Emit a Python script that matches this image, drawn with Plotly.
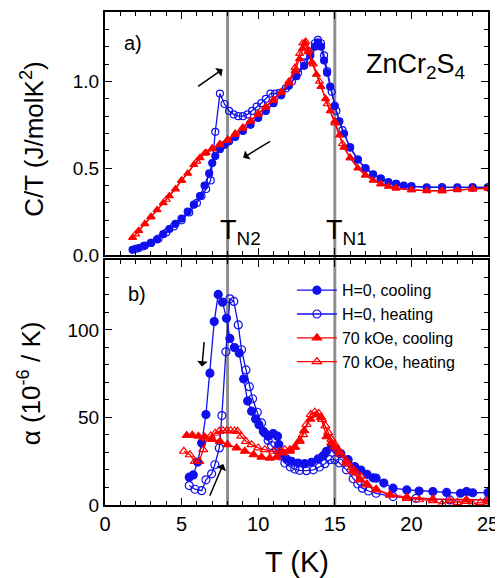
import plotly.graph_objects as go

# ---------------- data: panel a) C/T (J/molK^2) ----------------
a_T_h0_cool = [1.8, 2.2, 2.6, 3.0, 3.4, 3.8, 4.2, 4.6, 5.0, 5.4, 5.8, 6.2, 6.5, 6.8, 7.0, 7.2, 7.5, 7.8,
               8.1, 8.5, 9.0, 9.5, 10.0, 10.5, 11.0, 11.5, 12.0, 12.5, 13.0, 13.4, 13.7, 13.9, 14.1, 14.3,
               14.5, 14.7, 15.0, 15.3, 15.6, 16.0, 16.5, 17.0, 17.5, 18.0, 18.5, 19.0, 19.5, 20.0, 21.0,
               22.0, 23.0, 24.0, 25.0]
a_C_h0_cool = [0.03, 0.04, 0.055, 0.07, 0.09, 0.12, 0.15, 0.18, 0.21, 0.25, 0.29, 0.34, 0.40, 0.47, 0.53,
               0.57, 0.61, 0.635, 0.655, 0.68, 0.715, 0.75, 0.79, 0.83, 0.875, 0.92, 0.975, 1.03, 1.09,
               1.15, 1.20, 1.225, 1.20, 1.12, 1.05, 0.97, 0.86, 0.77, 0.70, 0.62, 0.55, 0.50, 0.465, 0.44,
               0.42, 0.41, 0.40, 0.395, 0.39, 0.39, 0.39, 0.39, 0.39]

a_T_h0_heat = [2.0, 2.5, 3.0, 3.5, 4.0, 4.5, 5.0, 5.5, 6.0, 6.3, 6.6, 6.9, 7.2, 7.5, 7.8, 8.1, 8.4, 8.7,
               9.0, 9.3, 9.6, 9.9, 10.2, 10.5, 10.8, 11.1, 11.4, 11.8, 12.2, 12.6, 13.0, 13.4, 13.7, 13.9,
               14.1, 14.3, 14.5, 14.8, 15.1, 15.5, 16.0, 16.5, 17.0, 18.0, 19.0, 20.0, 22.0, 24.0, 25.0]
a_C_h0_heat = [0.035, 0.05, 0.07, 0.095, 0.13, 0.165, 0.20, 0.245, 0.30, 0.34, 0.38, 0.43, 0.71, 0.93,
               0.87, 0.83, 0.81, 0.80, 0.80, 0.81, 0.83, 0.855, 0.875, 0.90, 0.93, 0.93, 0.935, 0.96,
               1.0, 1.05, 1.11, 1.17, 1.22, 1.24, 1.22, 1.15, 1.06, 0.94, 0.83, 0.72, 0.62, 0.55, 0.50,
               0.44, 0.41, 0.395, 0.39, 0.39, 0.39]

a_T_70_cool = [1.8, 2.2, 2.6, 3.0, 3.4, 3.8, 4.2, 4.6, 5.0, 5.4, 5.8, 6.2, 6.6, 7.0, 7.5, 8.0, 8.5, 9.0,
               9.5, 10.0, 10.5, 11.0, 11.5, 12.0, 12.4, 12.7, 12.9, 13.05, 13.25, 13.5, 13.8, 14.1, 14.4,
               14.7, 15.0, 15.3, 15.6, 16.0, 16.5, 17.0, 17.5, 18.0, 18.5, 19.0, 20.0, 21.0, 22.0, 23.0,
               24.0, 25.0]
a_C_70_cool = [0.10, 0.14, 0.18, 0.22, 0.26, 0.30, 0.34, 0.38, 0.43, 0.47, 0.52, 0.56, 0.59, 0.61, 0.635,
               0.66, 0.695, 0.73, 0.77, 0.81, 0.85, 0.89, 0.935, 0.99, 1.06, 1.13, 1.19, 1.22, 1.17, 1.11,
               1.04, 0.97, 0.90, 0.83, 0.77, 0.69, 0.62, 0.56, 0.50, 0.46, 0.43, 0.41, 0.395, 0.385, 0.375,
               0.37, 0.37, 0.375, 0.38, 0.385]

a_T_70_heat = [2.0, 3.0, 4.0, 5.0, 6.0, 6.5, 7.0, 7.5, 8.0, 8.5, 9.0, 9.5, 10.0, 10.5, 11.0, 11.5, 12.0,
               12.4, 12.7, 12.9, 13.1, 13.3, 13.6, 14.0, 14.5, 15.0, 15.5, 16.0, 17.0, 18.0, 19.0, 20.0,
               22.0, 24.0, 25.0]
a_C_70_heat = [0.12, 0.22, 0.32, 0.43, 0.54, 0.585, 0.615, 0.64, 0.665, 0.70, 0.735, 0.775, 0.815, 0.855,
               0.895, 0.94, 1.0, 1.08, 1.16, 1.22, 1.23, 1.18, 1.10, 1.0, 0.87, 0.76, 0.64, 0.56, 0.46,
               0.41, 0.385, 0.375, 0.37, 0.38, 0.385]

# ---------------- data: panel b) alpha (1e-6 / K) ----------------
b_T_h0_cool = [5.5, 5.76, 6.05, 6.31, 6.59, 6.85, 7.13, 7.39, 7.67, 7.93, 8.15, 8.45, 8.76, 9.05, 9.31,
               9.57, 9.83, 10.05, 10.33, 10.65, 10.98, 11.26, 11.35, 11.52, 11.85, 12.18, 12.61, 13.04,
               13.48, 13.91, 14.24, 14.46, 14.78, 15.1, 15.4, 15.87, 16.3, 16.7, 17.1, 17.5, 17.7, 18.2,
               18.8, 19.7, 20.5, 21.4, 22.3, 23.2, 23.6, 24.0, 25.0]
b_A_h0_cool = [15.9, 17.2, 24.5, 35.4, 51.7, 75.3, 104.8, 120.3, 115.9, 106.7, 95.2, 90.0, 86.8, 72.0,
               59.4, 53.6, 49.2, 45.9, 42.1, 39.3, 40.8, 39.3, 34.5, 29.7, 26.3, 24.9, 24.0, 23.6, 24.4,
               26.3, 28.2, 30.7, 33.2, 31.6, 29.3, 25.9, 22.0, 20.0, 17.5, 15.5, 15.3, 12.5, 9.6, 8.6,
               8.0, 7.7, 7.2, 6.7, 7.7, 7.0, 7.1]

b_T_h0_heat = [5.5, 5.87, 6.31, 6.59, 6.96, 7.17, 7.46, 7.63, 7.89, 8.15, 8.41, 8.7, 8.91, 9.2, 9.42,
               9.63, 9.94, 10.22, 10.43, 10.65, 10.87, 11.2, 11.45, 11.74, 12.1, 12.39, 12.7, 13.15, 13.6,
               14.0, 14.35, 14.67, 15.0, 15.3, 15.76, 16.2, 16.5, 16.8, 17.2, 17.7, 18.8, 20.3, 22.5, 25.0]
b_A_h0_heat = [11.1, 9.0, 8.2, 14.4, 17.8, 23.0, 32.6, 51.1, 87.5, 117.8, 116.3, 102.9, 88.7, 77.2, 67.6,
               60.7, 53.0, 46.9, 41.2, 36.9, 34.0, 31.6, 28.0, 24.0, 21.7, 20.5, 19.8, 19.6, 20.1, 21.7,
               23.6, 25.9, 25.9, 24.0, 20.1, 15.0, 12.0, 9.6, 8.0, 6.7, 4.8, 3.8, 2.9, 2.9]

b_T_70_cool = [5.33, 5.7, 6.1, 6.5, 7.0, 7.5, 8.0, 8.59, 9.13, 9.7, 10.22, 10.76, 11.2, 11.6, 12.07, 12.39,
               12.7, 13.0, 13.4, 13.8, 14.1, 14.46, 14.78, 15.0, 15.3, 15.76, 16.2, 16.6, 17.1, 17.7, 18.6,
               19.7, 21.4, 23.6, 25.0]
b_A_70_cool = [39.7, 39.8, 39.3, 38.8, 37.5, 36.4, 34.5, 32.6, 30.7, 28.7, 27.4, 26.8, 27.4, 29.7, 30.7,
               33.0, 37.0, 42.5, 49.0, 51.5, 50.0, 39.0, 35.5, 33.2, 30.0, 23.9, 19.3, 14.4, 12.0, 9.0,
               6.0, 4.5, 3.5, 2.9, 2.9]

b_T_70_heat = [5.15, 5.54, 5.87, 6.15, 6.41, 6.63, 6.9, 7.2, 7.46, 7.7, 7.95, 8.2, 8.45, 8.65, 8.9, 9.2,
               9.57, 10.0, 10.43, 10.98, 11.4, 11.74, 12.07, 12.39, 12.7, 12.93, 13.15, 13.43, 13.69,
               13.95, 14.17, 14.39, 14.57, 14.78, 15.0, 15.2, 15.4, 15.76, 16.1, 16.4, 16.7, 17.1, 17.7,
               18.6, 19.7, 20.5, 21.4, 22.0, 22.5, 23.0, 23.5, 24.0, 24.5, 25.0]
b_A_70_heat = [30.7, 28.7, 24.9, 24.9, 31.6, 37.7, 39.5, 41.0, 42.1, 42.5, 42.5, 42.5, 42.3, 42.1, 39.3,
               36.4, 34.5, 32.6, 31.6, 30.7, 30.7, 31.6, 31.6, 33.2, 36.4, 40.2, 46.0, 51.7, 53.0, 52.3,
               48.9, 45.2, 41.4, 37.5, 34.7, 31.8, 29.0, 25.2, 21.3, 18.4, 16.5, 11.5, 8.6, 5.7, 3.8, 3.0,
               2.5, 0.5, 2.5, 1.5, 2.0, 0.5, 1.5, 1.0]

legend_names = ["H=0, cooling", "H=0, heating", "70 kOe, cooling", "70 kOe, heating"]
T_N2 = 8
T_N1 = 15

x_ticks = [0, 5, 10, 15, 20, 25]
a_ticks = [0.0, 0.5, 1.0]
a_ticklabels = ["0.0", "0.5", "1.0"]
b_ticks = [0, 50, 100]

BLUE = "#1010ee"
RED = "#ff0000"
FONT = "Liberation Sans, Arial, sans-serif"

fig = go.Figure()

styles = [
    (BLUE, "circle"),
    (BLUE, "circle-open"),
    (RED, "triangle-up"),
    (RED, "triangle-up-open"),
]

a_sets = [(a_T_h0_cool, a_C_h0_cool), (a_T_h0_heat, a_C_h0_heat),
          (a_T_70_cool, a_C_70_cool), (a_T_70_heat, a_C_70_heat)]
b_sets = [(b_T_h0_cool, b_A_h0_cool), (b_T_h0_heat, b_A_h0_heat),
          (b_T_70_cool, b_A_70_cool), (b_T_70_heat, b_A_70_heat)]

for (xs, ys), (col, sym) in zip(a_sets, styles):
    fig.add_trace(go.Scatter(
        x=xs, y=ys, mode="lines+markers", xaxis="x2", yaxis="y2", showlegend=False,
        line=dict(color=col, width=1.3),
        marker=dict(symbol=sym, size=7, color=col, line=dict(color=col, width=1.2)),
    ))

for (xs, ys), (col, sym), name in zip(b_sets, styles, legend_names):
    fig.add_trace(go.Scatter(
        x=xs, y=ys, mode="lines+markers", xaxis="x", yaxis="y", name=name,
        line=dict(color=col, width=1.3),
        marker=dict(symbol=sym, size=8, color=col, line=dict(color=col, width=1.2)),
    ))

axis_common = dict(
    showline=True, linecolor="black", linewidth=2, mirror="allticks",
    ticks="inside", ticklen=7, tickwidth=1.2, tickcolor="black",
    showgrid=False, zeroline=False, automargin=False,
    tickfont=dict(family=FONT, size=19, color="black"),
)

# the page body adds an 8 px offset, so the figure is 8 px smaller than the window
fig.update_layout(
    width=495, height=570,
    margin=dict(l=97, r=15, t=4, b=73),
    paper_bgcolor="white", plot_bgcolor="white",
    font=dict(family=FONT, color="black"),
    xaxis=dict(domain=[0, 1], range=[0, 25], tickvals=x_ticks, anchor="y",
               minor=dict(dtick=1, ticks="inside", ticklen=4, tickcolor="black"),
               **{**axis_common, "tickfont": dict(family=FONT, size=20, color="black")}),
    yaxis=dict(domain=[0, 0.497], range=[0, 140], tickvals=b_ticks, anchor="x",
               minor=dict(dtick=10, ticks="inside", ticklen=4, tickcolor="black"),
               **axis_common),
    xaxis2=dict(domain=[0, 1], range=[0, 25], tickvals=x_ticks, anchor="y2", showticklabels=False,
                minor=dict(dtick=1, ticks="inside", ticklen=4, tickcolor="black"),
                **axis_common),
    yaxis2=dict(domain=[0.507, 1], range=[0, 1.4], tickvals=a_ticks, ticktext=a_ticklabels, anchor="x2",
                minor=dict(dtick=0.1, ticks="inside", ticklen=4, tickcolor="black"),
                **axis_common),
    legend=dict(x=0.488, y=0.47, xanchor="left", yanchor="top",
                font=dict(family=FONT, size=16, color="black"),
                bgcolor="rgba(0,0,0,0)", tracegroupgap=0, itemwidth=40),
    showlegend=True,
)

# transition temperature lines
for tn in (T_N2, T_N1):
    fig.add_shape(type="line", xref="x", yref="paper", x0=tn, x1=tn, y0=0, y1=1,
                  line=dict(color="#8f8f8f", width=3), layer="below")

ann = []
# axis titles
ann.append(dict(text="C/T (J/molK<sup>2</sup>)", xref="paper", yref="paper", x=-0.189, y=0.742,
                xanchor="center", yanchor="middle",
                textangle=-90, showarrow=False, font=dict(size=26)))
ann.append(dict(text="α (10<sup>-6</sup> / K)", xref="paper", yref="paper", x=-0.195, y=0.2475,
                xanchor="center", yanchor="middle",
                textangle=-90, showarrow=False, font=dict(size=26)))
ann.append(dict(text="T (K)", xref="paper", yref="paper", x=0.5, y=-0.115,
                xanchor="center", yanchor="middle",
                showarrow=False, font=dict(size=29)))
# panel labels
ann.append(dict(text="a)", xref="x2", yref="y2", x=1.83, y=1.223, showarrow=False, font=dict(size=20)))
ann.append(dict(text="b)", xref="x", yref="y", x=2.09, y=120.7, showarrow=False, font=dict(size=20)))
ann.append(dict(text="ZnCr<sub>2</sub>S<sub>4</sub>", xref="x2", yref="y2", x=23.6, y=1.09,
                xanchor="right", yanchor="middle", showarrow=False, font=dict(size=27)))
ann.append(dict(text="T<sub>N2</sub>", xref="x2", yref="y2", x=7.37, y=0.13,
                xanchor="left", yanchor="middle", showarrow=False, font=dict(size=27)))
ann.append(dict(text="T<sub>N1</sub>", xref="x2", yref="y2", x=14.29, y=0.13,
                xanchor="left", yanchor="middle", showarrow=False, font=dict(size=27)))
# arrows
arrows = [
    ("x2", "y2", 7.68, 1.07, 5.98, 0.966),
    ("x2", "y2", 9.02, 0.56, 10.87, 0.66),
    ("x", "y", 6.33, 79.1, 6.48, 93.9),
    ("x", "y", 7.72, 23.4, 6.8, 4.4),
]
for xr, yr, hx, hy, tx, ty in arrows:
    ann.append(dict(text="", xref=xr, yref=yr, axref=xr, ayref=yr, x=hx, y=hy, ax=tx, ay=ty,
                    showarrow=True, arrowhead=1, arrowsize=1.2, arrowwidth=1.5, arrowcolor="black"))

fig.update_layout(annotations=ann)

fig.write_html("out.html")
